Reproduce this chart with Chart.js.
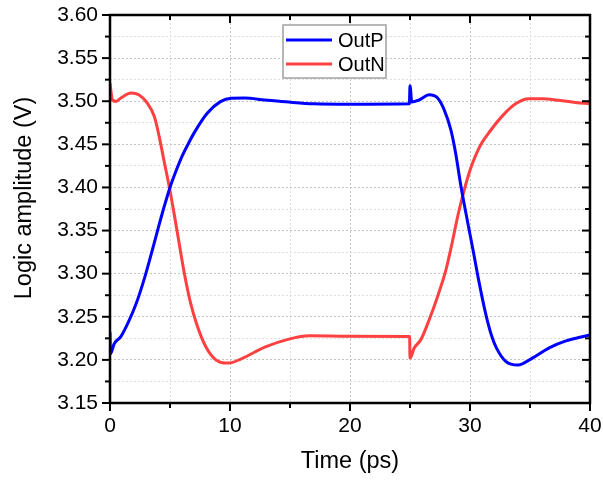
<!DOCTYPE html>
<html>
<head>
<meta charset="utf-8">
<script src="https://cdn.jsdelivr.net/npm/chart.js@4.4.1/dist/chart.umd.min.js"></script>
<style>
html,body{margin:0;padding:0;background:#fff}
</style>
</head>
<body>
<canvas id="c" width="603" height="481"></canvas>
<script>
// OutP (blue)
const outPTime=[0,0.03,0.36,0.9,1.5,2.2,2.9,3.5,4.0,4.5,5.0,5.5,6.0,6.5,7.0,8.1,9.2,10.1,11.2,12.9,14.9,17,20,24.95,25.0,25.15,25.8,26.6,27.3,27.85,28.4,28.8,29.25,29.8,30.3,30.7,31.3,31.8,32.2,33,34,35.2,36.6,38,40]
const outPVal=[3.232,3.207,3.219,3.227,3.243,3.266,3.296,3.326,3.352,3.377,3.400,3.419,3.436,3.450,3.463,3.486,3.4995,3.5035,3.5037,3.5015,3.499,3.497,3.4965,3.497,3.518,3.499,3.5017,3.5075,3.5037,3.490,3.467,3.44,3.401,3.36,3.324,3.294,3.254,3.228,3.214,3.198,3.194,3.202,3.214,3.222,3.229]
// OutN (red)
const outNTime=[0,0.2,0.5,0.9,1.75,2.4,3.1,3.7,4.1,4.5,4.95,5.4,5.8,6.2,6.75,7.6,8.4,9.25,9.9,10.9,12,12.9,14.9,16.6,20,24.97,25.0,25.35,25.9,26.6,27.3,28.0,28.5,29.0,29.5,30.0,30.5,31.0,31.6,32.7,33.8,34.9,36,37.4,38.8,40]
const outNVal=[3.521,3.5017,3.4998,3.5037,3.5095,3.5075,3.498,3.482,3.459,3.431,3.400,3.365,3.332,3.300,3.264,3.227,3.206,3.197,3.1963,3.201,3.2086,3.2148,3.2241,3.228,3.2275,3.2272,3.202,3.2137,3.2233,3.2466,3.2736,3.3046,3.335,3.368,3.396,3.420,3.438,3.452,3.464,3.483,3.497,3.503,3.503,3.501,3.4986,3.497]

const seriesNames=["OutP","OutN"]
const seriesColors=["#0000ff","#ff4040"]

const xTicks=[0,5,10,15,20,25,30,35,40]
const xLabels=["0","","10","","20","","30","","40"]
const yTicks=[3.15,3.175,3.2,3.225,3.25,3.275,3.3,3.325,3.35,3.375,3.4,3.425,3.45,3.475,3.5,3.525,3.55,3.575,3.6]
const yLabels=["3.15","","3.20","","3.25","","3.30","","3.35","","3.40","","3.45","","3.50","","3.55","","3.60"]

const xTitle="Time (ps)"
const yTitle="Logic amplitude (V)"

const FONT="'Liberation Sans', Arial, sans-serif"
Chart.defaults.font.family=FONT
Chart.defaults.color="#000"

function pts(t,v){
return t.map((x,i)=>({x:x,y:v[i]}))
}

function line(ctx,x1,y1,x2,y2){
ctx.beginPath()
ctx.moveTo(x1,y1)
ctx.lineTo(x2,y2)
ctx.stroke()
}

// axis frame, tick marks, y title and boxed legend
const framePlugin={
id:"frame",
afterDraw(chart){
const ctx=chart.ctx
const a=chart.chartArea
const xs=chart.scales.x
const ys=chart.scales.y
ctx.save()
ctx.strokeStyle="#000"
ctx.lineWidth=2
xs.ticks.forEach((t,i)=>{
let px=xs.getPixelForValue(t.value)
let len=xLabels[i]?8:5
line(ctx,px,a.bottom,px,a.bottom+len)
line(ctx,px,a.top,px,a.top+len)
})
ys.ticks.forEach((t,i)=>{
let py=ys.getPixelForValue(t.value)
let len=yLabels[i]?8:5
line(ctx,a.left-len,py,a.left,py)
line(ctx,a.right-len,py,a.right,py)
})
ctx.lineWidth=2.5
ctx.strokeRect(a.left,a.top,a.right-a.left,a.bottom-a.top)

// y axis title, sits a bit above the middle like the original
ctx.save()
ctx.translate(25,198)
ctx.rotate(-Math.PI/2)
ctx.font="23.5px "+FONT
ctx.fillStyle="#000"
ctx.textAlign="center"
ctx.textBaseline="middle"
ctx.fillText(yTitle,0,0)
ctx.restore()

// legend
let lx=283,ly=25,lw=103,lh=53
ctx.fillStyle="#fff"
ctx.fillRect(lx,ly,lw,lh)
ctx.strokeStyle="#a0a0a0"
ctx.lineWidth=1.5
ctx.strokeRect(lx,ly,lw,lh)
ctx.font="20px "+FONT
ctx.textBaseline="middle"
seriesNames.forEach((n,i)=>{
let y=ly+15+i*24
ctx.strokeStyle=seriesColors[i]
ctx.lineWidth=3
line(ctx,lx+3,y,lx+49,y)
ctx.fillStyle="#000"
ctx.fillText(n,lx+55,y+1)
})
ctx.restore()
}
}

new Chart(document.getElementById("c"),{
type:"scatter",
data:{
datasets:[
{label:seriesNames[0],data:pts(outPTime,outPVal),borderColor:seriesColors[0]},
{label:seriesNames[1],data:pts(outNTime,outNVal),borderColor:seriesColors[1]}
]
},
options:{
responsive:false,
animation:false,
showLine:true,
elements:{
point:{radius:0},
line:{borderWidth:3,cubicInterpolationMode:"monotone"}
},
layout:{padding:{top:15,right:13,left:0,bottom:0}},
plugins:{legend:{display:false},tooltip:{enabled:false}},
scales:{
x:{
type:"linear",
min:0,max:40,
afterBuildTicks(s){s.ticks=xTicks.map(v=>({value:v}))},
afterFit(s){s.height=78;s.paddingLeft=0;s.paddingRight=0},
ticks:{callback:(v,i)=>xLabels[i],font:{size:21},color:"#000",padding:11,maxRotation:0,autoSkip:false},
grid:{drawTicks:false,color:(c)=>xLabels[c.index]?"#c4c4c4":"#dedede",lineWidth:1},
border:{display:false,dash:[2,2]},
title:{display:true,text:xTitle,font:{size:23.5},color:"#000",padding:{top:0,bottom:5}}
},
y:{
type:"linear",
min:3.15,max:3.6,
afterBuildTicks(s){s.ticks=yTicks.map(v=>({value:v}))},
afterFit(s){s.width=110;s.paddingTop=0;s.paddingBottom=0},
ticks:{callback:(v,i)=>yLabels[i],font:{size:21},color:"#000",padding:12,autoSkip:false},
grid:{drawTicks:false,color:(c)=>yLabels[c.index]?"#c4c4c4":"#dedede",lineWidth:1},
border:{display:false,dash:[2,2]},
title:{display:false}
}
}
},
plugins:[framePlugin]
})
</script>
</body>
</html>
